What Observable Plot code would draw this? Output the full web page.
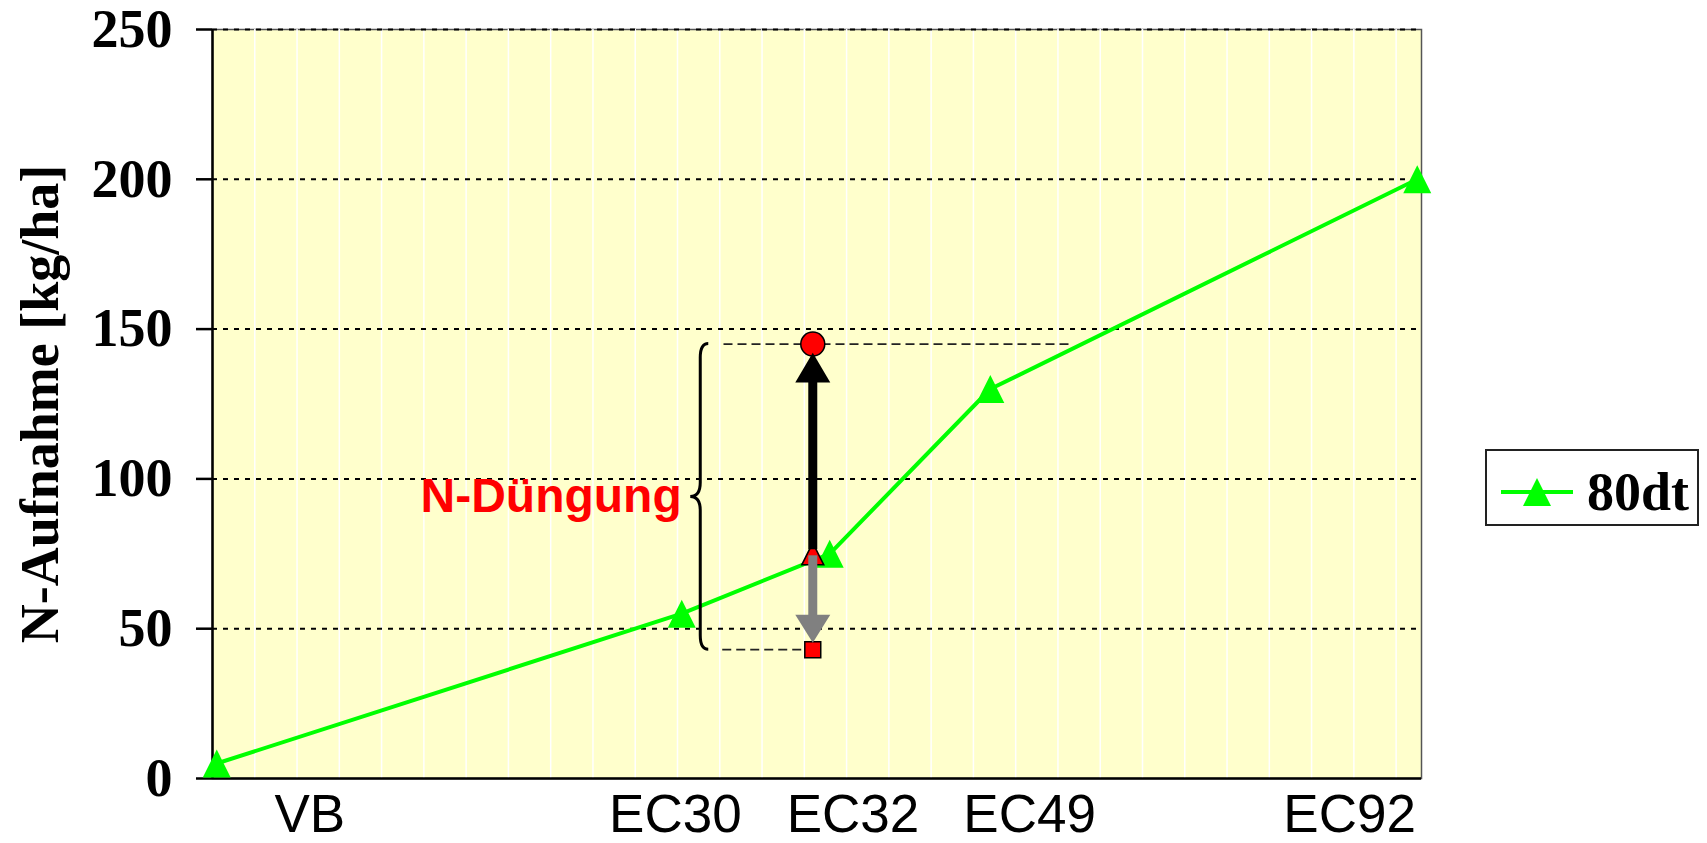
<!DOCTYPE html>
<html>
<head>
<meta charset="utf-8">
<script src="https://cdn.jsdelivr.net/npm/d3@7"></script>
<script src="https://cdn.jsdelivr.net/npm/@observablehq/plot@0.6"></script>
<style>
  html, body { margin: 0; padding: 0; background: #fff; }
  #wrap { position: relative; width: 1707px; height: 843px; overflow: hidden; }
  #chart svg { display: block; }
  #legend { position: absolute; left: 1485px; top: 449px; }
</style>
</head>
<body>
<div id="wrap">
  <div id="chart"></div>
  <svg id="legend" width="216" height="79" xmlns="http://www.w3.org/2000/svg"></svg>
</div>
<script>
// Entwicklungsstadien (Position auf der Zeitachse) und N-Aufnahme der Variante 80 dt
const stages   = ["VB", "EC30", "EC32", "EC49", "EC92"];
const stageX   = [1, 111, 146, 184, 285];
const uptake80 = [5, 55, 75, 130, 200];
const seriesName = "80dt";

// Beschriftung der Zeitachse
const labelX = [23, 109.5, 151.5, 193.3, 269];
const yTicks = [0, 50, 100, 150, 200, 250];

// N-Düngung zu EC32: Ausgangswert, Obergrenze, Untergrenze
const fertX    = 142;
const fertBase = 75;
const fertHigh = 145;
const fertLow  = 43;
const braceX   = 115.5;
const topGuide = [121, 203.5];
const lowGuide = [120.7, fertX];

const serif = "'Liberation Serif', 'Times New Roman', Times, serif";
const sans  = "'Liberation Sans', Arial, Helvetica, sans-serif";
const green = "#00ff00";

// Dreieck mit gleich hoher und breiter Box, mittig auf dem Punkt
const tri = {draw(ctx, size) {
  const r = Math.sqrt(size / Math.PI);
  ctx.moveTo(0, -r); ctx.lineTo(r, r); ctx.lineTo(-r, r); ctx.closePath();
}};
// Pfeilspitzen: Spitze knapp neben dem Zielpunkt
const headUp = {draw(ctx, size) {
  const r = Math.sqrt(size / Math.PI);
  ctx.moveTo(0, 0.5 * r); ctx.lineTo(r, 2.2 * r); ctx.lineTo(-r, 2.2 * r); ctx.closePath();
}};
const headDown = {draw(ctx, size) {
  const r = Math.sqrt(size / Math.PI);
  ctx.moveTo(0, -0.4 * r); ctx.lineTo(r, -2.0 * r); ctx.lineTo(-r, -2.0 * r); ctx.closePath();
}};

const series = stageX.map((x, i) => ({x, y: uptake80[i], stage: stages[i]}));
const guides = [
  {y: fertHigh, x1: topGuide[0], x2: topGuide[1]},
  {y: fertLow,  x1: lowGuide[0], x2: lowGuide[1]}
];

const chart = Plot.plot({
  width: 1707,
  height: 843,
  marginLeft: 212,
  marginRight: 286,
  marginTop: 29,
  marginBottom: 65,
  x: {domain: [0, 286]},
  y: {domain: [0, 250]},
  style: {background: "transparent", overflow: "visible"},
  marks: [
    Plot.frame({fill: "#ffffcc", stroke: "#555", strokeWidth: 1.5}),
    Plot.gridX({ticks: d3.range(10, 286, 10), stroke: "#ffffff", strokeOpacity: 1, strokeWidth: 1.5}),
    Plot.gridY({ticks: yTicks.slice(1), stroke: "#000", strokeOpacity: 1, strokeWidth: 2, strokeDasharray: "5,6"}),
    Plot.ruleX([0], {stroke: "#000", strokeWidth: 2.5}),
    Plot.ruleY([0], {stroke: "#000", strokeWidth: 2.5}),
    Plot.axisY({
      ticks: yTicks, tickSize: 16, tickPadding: 24, strokeWidth: 2.5,
      fontSize: 54, fontWeight: "bold", fontFamily: serif, fill: "#000", label: null
    }),
    Plot.axisX({
      ticks: labelX, tickFormat: d => stages[labelX.indexOf(d)],
      tickSize: 0, tickPadding: 16, fontSize: 53, fontFamily: sans, fill: "#000", label: null
    }),
    Plot.text(["N-Aufnahme [kg/ha]"], {
      text: d => d, frameAnchor: "left", textAnchor: "middle", rotate: -90, dx: -172,
      fontSize: 54, fontWeight: "bold", fontFamily: serif, fill: "#000"
    }),

    // Verlauf der N-Aufnahme
    Plot.line(series, {x: "x", y: "y", stroke: green, strokeWidth: 4}),
    Plot.dot(series, {x: "x", y: "y", symbol: tri, r: 14, fill: green, stroke: "none"}),

    // Hilfslinien zur N-Düngung
    Plot.ruleY(guides, {y: "y", x1: "x1", x2: "x2", stroke: "#222", strokeWidth: 1.8, strokeDasharray: "9,5"}),
    Plot.dot([{x: fertX, y: fertHigh}], {x: "x", y: "y", r: 12, fill: "#ff0000", stroke: "#000", strokeWidth: 1.5}),
    Plot.dot([{x: fertX, y: fertLow}], {x: "x", y: "y", symbol: "square", r: 9, fill: "#ff0000", stroke: "#000", strokeWidth: 1.5}),
    Plot.dot([{x: fertX, y: fertBase}], {x: "x", y: "y", symbol: tri, r: 11, fill: "#ff0000", stroke: "#000", strokeWidth: 1.5}),

    // Pfeile: Ober- und Untergrenze der Düngung
    Plot.ruleX([{x: fertX, y1: fertHigh, y2: fertBase}], {x: "x", y1: "y1", y2: "y2", stroke: "#000", strokeWidth: 9, insetTop: 28, insetBottom: 4}),
    Plot.dot([{x: fertX, y: fertHigh}], {x: "x", y: "y", symbol: headUp, r: 17.5, fill: "#000", stroke: "none"}),
    Plot.ruleX([{x: fertX, y1: fertBase, y2: fertLow}], {x: "x", y1: "y1", y2: "y2", stroke: "#808080", strokeWidth: 9, insetTop: 2, insetBottom: 26}),
    Plot.dot([{x: fertX, y: fertLow}], {x: "x", y: "y", symbol: headDown, r: 17.5, fill: "#808080", stroke: "none"}),

    Plot.text(["N-Düngung"], {
      text: d => d, x: braceX, y: (fertHigh + fertLow) / 2, textAnchor: "end", dx: -19,
      fontSize: 48, fontWeight: "bold", fontFamily: sans, fill: "#ff0000"
    })
  ]
});

document.getElementById("chart").appendChild(chart);

// Geschweifte Klammer über die Spanne der N-Düngung, über die Plot-Skalen positioniert
(function drawBrace() {
  const sx = chart.scale("x"), sy = chart.scale("y");
  const X = v => sx.apply(v), Y = v => sy.apply(v);
  const bx = X(braceX), yT = Y(fertHigh), yB = Y(fertLow), yM = Y((fertHigh + fertLow) / 2);
  const c = 14, w = 8, p = 10;
  const d = `M${bx + w},${yT} Q${bx},${yT} ${bx},${yT + c} L${bx},${yM - c} ` +
            `Q${bx},${yM} ${bx - p},${yM} Q${bx},${yM} ${bx},${yM + c} ` +
            `L${bx},${yB - c} Q${bx},${yB} ${bx + w},${yB}`;
  d3.select(chart).append("path")
    .attr("d", d).attr("fill", "none").attr("stroke", "#000").attr("stroke-width", 3);
})();

// Legende
(function drawLegend() {
  const lg = d3.select("#legend");
  lg.append("rect").attr("x", 1).attr("y", 1).attr("width", 212).attr("height", 75)
    .attr("fill", "#fff").attr("stroke", "#222").attr("stroke-width", 2);
  lg.append("line").attr("x1", 16).attr("x2", 88).attr("y1", 43).attr("y2", 43)
    .attr("stroke", green).attr("stroke-width", 4);
  lg.append("path").attr("d", "M52,29 L66,57 L38,57 Z").attr("fill", green);
  lg.append("text").attr("x", 102).attr("y", 61).text(seriesName)
    .attr("font-family", serif).attr("font-weight", "bold").attr("font-size", 54).attr("fill", "#000");
})();
</script>
</body>
</html>
